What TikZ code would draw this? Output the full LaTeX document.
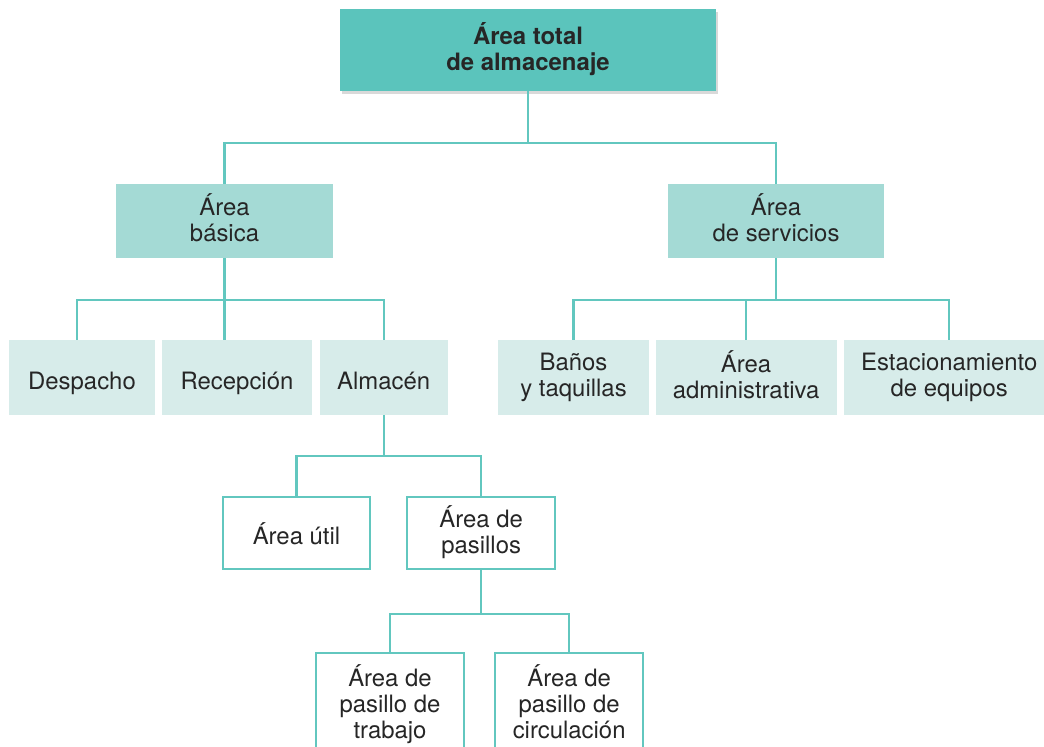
\documentclass[tikz,border=0pt]{standalone}
\usepackage{fontspec}
\setmainfont{TeX Gyre Heros}
\usetikzlibrary{positioning,shadows}

\definecolor{tealdark}{HTML}{5BC4BC}
\definecolor{tealmid}{HTML}{A4DAD5}
\definecolor{teallight}{HTML}{D7ECEA}
\definecolor{tealline}{HTML}{62C7BF}

\newcommand\topstrut{\rule{0pt}{21pt}}
\newcommand\botstrut{\rule[-4.5pt]{0pt}{4.5pt}}

\begin{document}
\begin{tikzpicture}[x=0.025cm,y=-0.025cm,
  box/.style={align=center, inner sep=0pt, text=black!85,
    font=\fontsize{17}{18.5}\selectfont,
    execute at begin node=\topstrut, execute at end node=\botstrut},
  topbox/.style={box, fill=tealdark, minimum width=9.4cm, minimum height=2.05cm,
    font=\fontsize{17}{18.5}\selectfont\bfseries,
    drop shadow={shadow xshift=0.04cm, shadow yshift=-0.08cm, opacity=0.3}},
  midbox/.style={box, fill=tealmid, minimum height=1.85cm},
  leafbox/.style={box, fill=teallight, minimum height=1.875cm},
  openbox/.style={box, draw=tealline, line width=1.5pt, fill=white},
  link/.style={draw=tealline, line width=1.5pt}]
 \useasboundingbox (0,0) rectangle (1044,747);
 \clip (0,0) rectangle (1044,747);

 \node[topbox] (total) at (528,50) {Área total\\de almacenaje};

 \node[midbox, minimum width=5.425cm] (basica) at (224.5,221) {Área\\básica};
 \node[midbox, minimum width=5.4cm] (servicios) at (776,221) {Área\\de servicios};

 % area basica
 \node[leafbox, minimum width=3.65cm] (despacho) at (82,377.5) {Despacho};
 \node[leafbox, minimum width=3.75cm, right=0.16cm of despacho] (recepcion) {Recepción};
 \node[leafbox, minimum width=3.2cm, right=0.175cm of recepcion] (almacen) {Almacén};

 % area de servicios
 \node[leafbox, minimum width=3.775cm] (banos) at (573.5,377.5) {Baños\\y taquillas};
 \node[leafbox, minimum width=4.525cm, right=0.15cm of banos] (admin) {Área\\administrativa};
 \node[leafbox, minimum width=5.25cm, right=0.175cm of admin] (estac) {Estacionamiento\\de equipos};

 % almacen
 \node[openbox, minimum width=3.675cm, minimum height=1.8cm] (util) at (296.5,533) {Área útil};
 \node[openbox, minimum width=3.7cm, minimum height=1.8cm, right=0.875cm of util] (pasillos) {Área de\\pasillos};

 \node[openbox, minimum width=3.7cm, minimum height=2.6cm] (trabajo) at (390,705) {Área de\\pasillo de\\trabajo};
 \node[openbox, minimum width=3.7cm, minimum height=2.6cm, right=0.725cm of trabajo] (circulacion) {Área de\\pasillo de\\circulación};

 \draw[link] (total.south) -- ++(0,52) -| (basica.north);
 \draw[link] (total.south) -- ++(0,52) -| (servicios.north);

 \draw[link] (basica.south) -- ++(0,42) -| ([xshift=-0.125cm]despacho.north);
 \draw[link] (basica.south) -- (basica.south |- recepcion.north);
 \draw[link] (basica.south) -- ++(0,42) -| (almacen.north);

 \draw[link] (servicios.south) -- ++(0,42) -| (banos.north);
 \draw[link] (servicios.south) -- ++(0,42) -| (admin.north);
 \draw[link] (servicios.south) -- ++(0,42) -| (estac.north);

 \draw[link] (almacen.south) -- ++(0,41) -| (util.north);
 \draw[link] (almacen.south) -- ++(0,41) -| (pasillos.north);

 \draw[link] (pasillos.south) -- ++(0,44) -| (trabajo.north);
 \draw[link] (pasillos.south) -- ++(0,44) -| (circulacion.north);
\end{tikzpicture}
\end{document}
